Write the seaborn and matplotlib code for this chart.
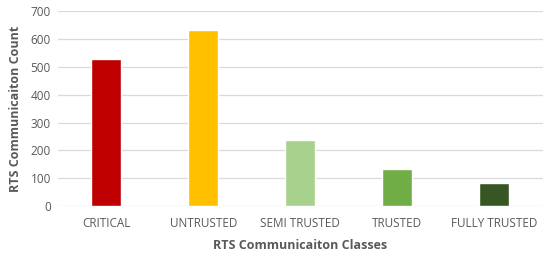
import pandas as pd
import seaborn as sns
import matplotlib.pyplot as plt

# datos
classes = ["CRITICAL", "UNTRUSTED", "SEMI TRUSTED", "TRUSTED", "FULLY TRUSTED"]
counts = [528, 632, 237, 133, 84]
colors = ["#C00000", "#FFC000", "#A9D18E", "#70AD47", "#375623"]

df = pd.DataFrame({"clase": classes, "cuenta": counts})

sns.set_style("white")
plt.rcParams["font.family"] = ["Open Sans", "DejaVu Sans"]

fig, ax = plt.subplots(figsize=(5.5, 2.57), dpi=100)
sns.barplot(data=df, x="clase", y="cuenta", hue="clase", palette=colors,
            legend=False, width=0.31, saturation=1, ax=ax, zorder=3)

ax.set_ylim(0, 700)
ax.set_yticks(range(0, 701, 100))
ax.yaxis.grid(True, color="#D9D9D9", linewidth=0.9, zorder=0)
for s in ax.spines.values():
    s.set_visible(False)
ax.tick_params(axis="both", length=0, labelsize=8.5, colors="#595959", pad=5)
ax.tick_params(axis="x", pad=8)
ax.set_xlabel("RTS Communicaiton Classes", fontsize=9, fontweight="bold",
              color="#595959", labelpad=6)
ax.set_ylabel("RTS Communicaiton Count", fontsize=9, fontweight="bold",
              color="#595959", labelpad=6)

plt.subplots_adjust(left=0.105, right=0.987, top=0.957, bottom=0.198)
plt.savefig("out.png")
